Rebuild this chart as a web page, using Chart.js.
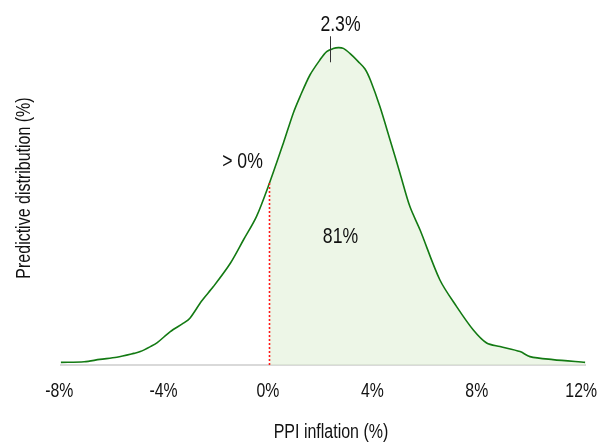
<!DOCTYPE html>
<html>
<head>
<meta charset="utf-8">
<script src="https://cdn.jsdelivr.net/npm/chart.js@4.4.1/dist/chart.umd.min.js"></script>
<style>
  html, body { margin: 0; padding: 0; background: #ffffff; }
  #wrap { width: 604px; height: 446px; }
</style>
</head>
<body>
<div id="wrap"><canvas id="c" width="604" height="446"></canvas></div>
<script>
// PPI inflation outcomes (%) and their predictive density (%)
const inflation = [-8.0, -7.1, -6.5, -5.85, -5.2, -4.95, -4.55, -4.3, -3.8, -3.3, -3.05, -2.6, -2.15,
  -1.5, -1.0, -0.5, 0.0, 0.53, 0.91, 1.17, 1.55, 1.93, 2.19, 2.44, 2.64, 2.83, 3.08, 3.4, 3.66, 3.88,
  4.23, 4.62, 5.0, 5.38, 5.77, 6.53, 7.17, 7.81, 8.32, 8.83, 9.6, 9.98, 10.86, 12.1];
const density = [0.13, 0.16, 0.28, 0.39, 0.58, 0.67, 0.93, 1.12, 1.67, 2.09, 2.34, 3.2, 3.92,
  5.09, 6.25, 7.42, 9.1, 11.09, 12.59, 13.42, 14.5, 15.25, 15.67, 15.82, 15.87, 15.83, 15.58, 15.17, 14.8, 14.2,
  12.92, 11.25, 9.59, 7.92, 6.75, 4.25, 2.92, 1.75, 1.1, 0.92, 0.67, 0.42, 0.27, 0.13];
const xTicks = [-8, -4, 0, 4, 8, 12];
const threshold = 0;        // inflation above zero
const shareAbove = 81;      // probability mass above threshold (%)
const modeValue = 2.3;      // most likely outcome (%)
const xTitle = 'PPI inflation (%)';
const yTitle = 'Predictive distribution (%)';

const FONT = "'Liberation Sans', Arial, sans-serif";
const SQUEEZE = 0.82;       // condensed lettering
const GREEN = '#137a13';
const SHADE = 'rgba(222, 238, 212, 0.55)';
const INK = '#111111';

function densityAt(v) {
  for (let i = 1; i < inflation.length; i++) {
    if (v <= inflation[i]) {
      const t = (v - inflation[i - 1]) / (inflation[i] - inflation[i - 1]);
      return density[i - 1] + t * (density[i] - density[i - 1]);
    }
  }
  return density[density.length - 1];
}

const curve = inflation.map((x, i) => ({ x, y: density[i] }));
const upper = curve.filter(p => p.x >= threshold);
const cutoff = [{ x: threshold, y: 0 }, { x: threshold, y: densityAt(threshold) }];

// condensed text helper: x,y is the centre/baseline anchor
function narrowText(ctx, text, x, y, size, rotate) {
  ctx.save();
  ctx.translate(x, y);
  if (rotate) ctx.rotate(-Math.PI / 2);
  ctx.scale(SQUEEZE, 1);
  ctx.font = size + 'px ' + FONT;
  ctx.fillStyle = INK;
  ctx.textAlign = 'center';
  ctx.textBaseline = 'alphabetic';
  ctx.fillText(text, 0, 0);
  ctx.restore();
}

const annotations = {
  id: 'annotations',
  afterDraw(chart) {
    const { ctx, chartArea, scales: { x, y } } = chart;
    const tx = x.getPixelForValue(threshold);
    const ty = y.getPixelForValue(densityAt(threshold));

    // tick marking the modal value
    const mx = Math.round(x.getPixelForValue(modeValue)) + 0.5;
    const my = y.getPixelForValue(densityAt(modeValue));
    ctx.save();
    ctx.strokeStyle = '#333333';
    ctx.lineWidth = 1;
    ctx.beginPath();
    ctx.moveTo(mx, my - 14);
    ctx.lineTo(mx, my + 12);
    ctx.stroke();
    ctx.restore();

    narrowText(ctx, modeValue.toFixed(1) + '%', mx + 10, my - 19.5, 21.5);
    narrowText(ctx, '> ' + threshold + '%', tx - 27, ty - 15.5, 21.5);
    narrowText(ctx, shareAbove + '%', x.getPixelForValue(2.72), y.getPixelForValue(6.1), 21.5);

    // axis labels
    x.ticks.forEach(t => {
      narrowText(ctx, t.value + '%', x.getPixelForValue(t.value) - 1.5, chartArea.bottom + 32, 19.3);
    });
    narrowText(ctx, xTitle, 331, 437.5, 19.5);
    narrowText(ctx, yTitle, 30.2, (chartArea.top + chartArea.bottom) / 2, 19.5, true);
  }
};

new Chart(document.getElementById('c'), {
  type: 'line',
  data: {
    datasets: [
      {
        data: curve,
        borderColor: GREEN,
        borderWidth: 1.6,
        pointRadius: 0,
        fill: false,
        tension: 0.3,
        order: 1
      },
      {
        data: cutoff,
        borderColor: '#ff1a1a',
        borderWidth: 1.6,
        borderDash: [2, 2],
        pointRadius: 0,
        fill: false,
        tension: 0,
        order: 0
      },
      {
        data: upper,
        borderWidth: 0,
        borderColor: 'rgba(0,0,0,0)',
        backgroundColor: SHADE,
        pointRadius: 0,
        fill: 'origin',
        tension: 0.3,
        order: 2
      }
    ]
  },
  options: {
    responsive: false,
    animation: false,
    events: [],
    layout: { padding: { top: 11, right: 18.7, bottom: 0, left: 0 } },
    plugins: { legend: { display: false }, tooltip: { enabled: false } },
    scales: {
      x: {
        type: 'linear',
        min: -8,
        max: 12.1,
        afterBuildTicks: s => { s.ticks = xTicks.map(v => ({ value: v })); },
        afterFit: s => { s.height = 81; s.paddingLeft = 0; s.paddingRight = 0; },
        grid: { display: false, drawTicks: false },
        border: { display: true, color: '#d9d9d9', width: 2 },
        ticks: { display: false }
      },
      y: {
        min: 0,
        max: 17.7,
        afterFit: s => { s.width = 60.7; s.paddingTop = 0; s.paddingBottom = 0; },
        grid: { display: false, drawTicks: false },
        border: { display: false },
        ticks: { display: false }
      }
    }
  },
  plugins: [annotations]
});
</script>
</body>
</html>
